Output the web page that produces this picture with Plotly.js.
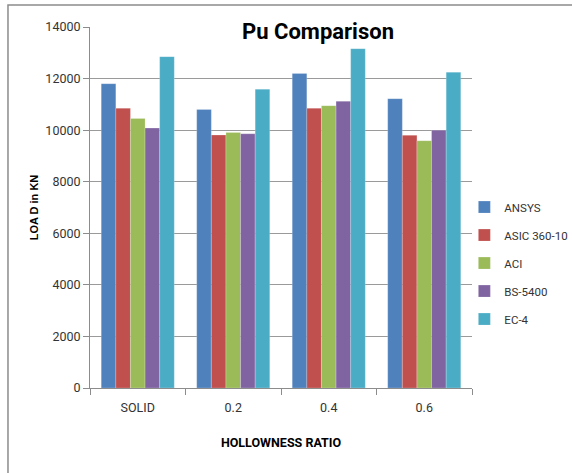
<!DOCTYPE html>
<html>
<head>
<meta charset="utf-8">
<script src="https://cdn.plot.ly/plotly-3.0.1.min.js"></script>
<style>
  html, body { margin: 0; padding: 0; background: #fff; }
  #chart { width: 572px; height: 473px; }
</style>
</head>
<body>
<div id="chart"></div>
<script>
// Hollowness ratio categories
const categories = ["SOLID", "0.2", "0.4", "0.6"];

// Ultimate load (kN) by method
const ansys   = [11800, 10800, 12200, 11220];
const aisc    = [10850, 9810, 10850, 9800];
const aci     = [10450, 9910, 10950, 9590];
const bs5400  = [10080, 9860, 11120, 10000];
const ec4     = [12850, 11590, 13160, 12250];

const seriesNames = ["ANSYS", "ASIC 360-10", "ACI", "BS-5400", "EC-4"];
const seriesValues = [ansys, aisc, aci, bs5400, ec4];
const seriesColors = ["#4F81BD", "#C0504D", "#9BBB59", "#8064A2", "#4BACC6"];

const narrow = "Roboto, Liberation Sans, sans-serif";

const traces = seriesNames.map((name, i) => ({
  type: "bar",
  name: name,
  x: categories,
  y: seriesValues[i],
  legendgroup: "g" + i,
  marker: { color: seriesColors[i], line: { color: "rgba(255,255,255,0.35)", width: 0.6 } },
  hoverinfo: "x+y+name"
}));

const layout = {
  width: 572,
  height: 473,
  margin: { l: 90, r: 100, t: 27, b: 85, autoexpand: false },
  paper_bgcolor: "#ffffff",
  plot_bgcolor: "#ffffff",
  barmode: "group",
  bargap: 0.235,
  bargroupgap: 0,
  showlegend: true,
  title: {
    text: "<b>Pu Comparison</b>",
    font: { family: narrow, size: 22, color: "#000000" },
    x: 0.556, xanchor: "center",
    y: 0.934, yanchor: "middle"
  },
  xaxis: {
    type: "category",
    automargin: false,
    tickson: "boundaries",
    ticks: "outside",
    ticklen: 6,
    tickcolor: "#8c8c8c",
    ticklabelstandoff: 8,
    showline: true,
    linecolor: "#8c8c8c",
    linewidth: 1,
    showgrid: false,
    tickfont: { family: narrow, size: 12.5, color: "#333333" },
    title: {
      text: "<b>HOLLOWNESS RATIO</b>",
      font: { family: narrow, size: 12.5, color: "#000000" },
      standoff: 24
    }
  },
  yaxis: {
    automargin: false,
    range: [0, 14000],
    dtick: 2000,
    tickformat: "d",
    ticks: "outside",
    ticklen: 6,
    tickcolor: "#8c8c8c",
    showline: true,
    linecolor: "#8c8c8c",
    linewidth: 1,
    showgrid: true,
    gridcolor: "#9a9a9a",
    gridwidth: 1,
    zeroline: false,
    tickfont: { family: narrow, size: 12.5, color: "#333333" },
    title: {
      text: "<b>LOA D in KN</b>",
      font: { family: "Liberation Sans, Arial, sans-serif", size: 11, color: "#000000" },
      standoff: 4
    }
  },
  legend: {
    x: 0.98, xanchor: "left",
    y: 0.346, yanchor: "middle",
    traceorder: "grouped",
    tracegroupgap: 9,
    itemwidth: 30,
    font: { family: narrow, size: 11.5, color: "#333333" },
    bgcolor: "rgba(0,0,0,0)"
  },
  shapes: [{
    type: "rect",
    xref: "paper", yref: "paper",
    x0: -0.2147, x1: 1.3,
    y0: -0.3, y1: 1.061,
    line: { color: "#8c8c8c", width: 1.5 },
    fillcolor: "rgba(0,0,0,0)",
    layer: "below"
  }]
};

Plotly.newPlot("chart", traces, layout, { displayModeBar: false, staticPlot: true });
</script>
</body>
</html>
